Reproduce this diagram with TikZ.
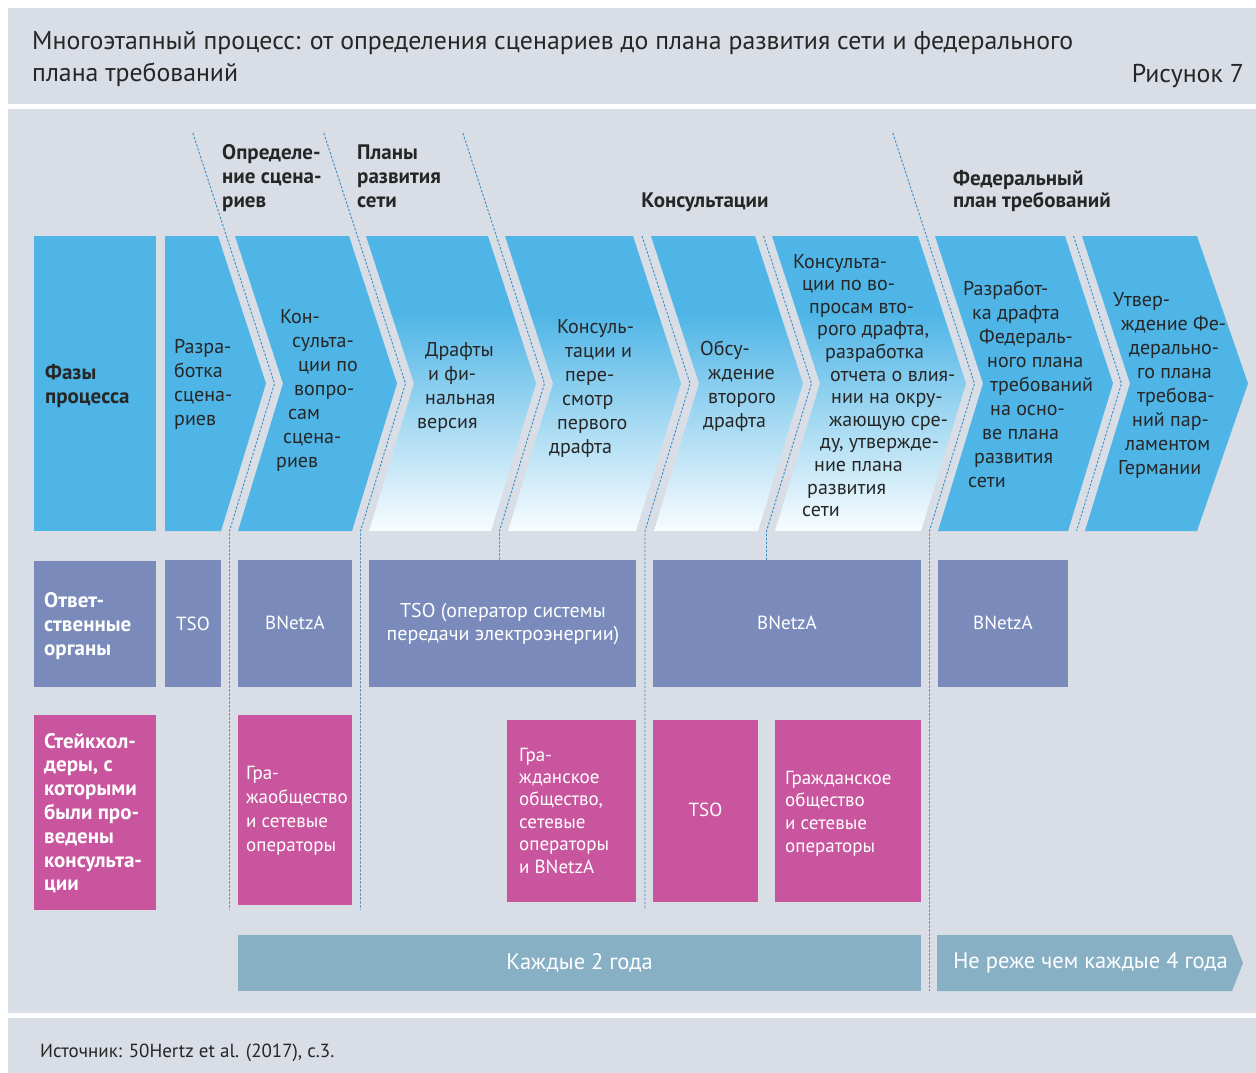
\documentclass[tikz,border=0pt]{standalone}
\usepackage{fontspec}
\setmainfont{PT Sans}

\definecolor{panel}{HTML}{D9DDE5}
\definecolor{cblue}{HTML}{4FB5E6}
\definecolor{slate}{HTML}{7A8BBB}
\definecolor{mag}{HTML}{C9559E}
\definecolor{band}{HTML}{88B0C5}
\definecolor{dashc}{HTML}{3A8EC4}
\definecolor{ink}{HTML}{262626}
\colorlet{fadebot}{cblue!4!white}
\colorlet{fademid}{cblue!55!white}

% blue at the top of a phase arrow, fading to white towards its foot
\pgfdeclareverticalshading{chevfade}{100bp}{color(0bp)=(fadebot); color(25bp)=(fadebot); color(45bp)=(fademid); color(62bp)=(cblue); color(100bp)=(cblue)}

% one line of a stacked label, shifted right by #1 pt
\newcommand\Ln[2]{\hbox{\kern#1pt #2}}

\tikzset{
  chev/.style={fill=cblue},
  chevf/.style={shading=chevfade},
  sep/.style={draw=dashc, line width=0.9pt, dash pattern=on 2.4pt off 1.6pt},
  txt/.style={inner sep=0pt, text=ink, font=\fontsize{20}{24}\selectfont},
  head/.style={inner sep=0pt, text=ink, font=\bfseries\fontsize{21}{24}\selectfont},
  wtxt/.style={inner sep=0pt, text=white, font=\fontsize{19}{24}\selectfont},
  wbold/.style={inner sep=0pt, text=white, font=\bfseries\fontsize{21}{24}\selectfont},
}

\begin{document}
\begin{tikzpicture}[x=1pt, y=-1pt]
\useasboundingbox (0,0) rectangle (1256,1073);
\fill[white] (0,0) rectangle (1256,1073);

% panels
\fill[panel] (8,8) rectangle (1256,103.5);
\fill[panel] (8,109) rectangle (1256,1012.5);
\fill[panel] (8,1018) rectangle (1256,1073);

% heading
\node[inner sep=0pt, anchor=base west, text=ink, font=\fontsize{25.8}{32}\selectfont] (title) at (32,50)
  {\vtop{\baselineskip=32pt\hbox{Многоэтапный процесс: от определения сценариев до плана развития сети и федерального}\hbox{плана требований}}};
\node[inner sep=0pt, anchor=base east, text=ink, font=\fontsize{25.8}{32}\selectfont] (fig) at (1244,82) {Рисунок 7};

% ---- phase arrows ----
\fill[cblue] (34,236) rectangle (156,531);
\fill[chev] (165,236) -- (218,236) -- (266,383.5) -- (221,531) -- (165,531) -- cycle;
\fill[chev] (235,236) -- (349,236) -- (397,383.5) -- (352,531) -- (238,531) -- (283,383.5) -- cycle;
\path[chevf] (366,236) -- (488,236) -- (536,383.5) -- (491,531) -- (369,531) -- (414,383.5) -- cycle;
\path[chevf] (505,236) -- (633,236) -- (681,383.5) -- (636,531) -- (508,531) -- (553,383.5) -- cycle;
\path[chevf] (651,236) -- (755,236) -- (803,383.5) -- (758,531) -- (654,531) -- (699,383.5) -- cycle;
\path[chevf] (772,236) -- (918,236) -- (966,383.5) -- (921,531) -- (775,531) -- (820,383.5) -- cycle;
\fill[chev] (935,236) -- (1065,236) -- (1113,383.5) -- (1068,531) -- (938,531) -- (983,383.5) -- cycle;
\fill[chev] (1082,236) -- (1197,236) -- (1248,383.5) -- (1197,531) -- (1085,531) -- (1130,383.5) -- cycle;

% ---- responsible bodies ----
\fill[slate] (34,561) rectangle (156,687);
\fill[slate] (165,560) rectangle (221,687);
\fill[slate] (238,560) rectangle (352,687);
\fill[slate] (369,560) rectangle (636,687);
\fill[slate] (653,560) rectangle (921,687);
\fill[slate] (938,560) rectangle (1068,687);

% ---- stakeholders ----
\fill[mag] (34,715) rectangle (156,910);
\fill[mag] (238,715) rectangle (352,905);
\fill[mag] (507,720) rectangle (636,902);
\fill[mag] (653,720) rectangle (758,902);
\fill[mag] (775,720) rectangle (921,902);

% ---- cycles ----
\fill[band] (238,935) rectangle (921,991);
\fill[band] (937,935) -- (1232,935) -- (1243,963) -- (1232,991) -- (937,991) -- cycle;

% ---- dashed phase separators ----
\draw[sep] (192.8,133) -- (274.5,383.5) -- (229.5,531) -- (229.5,910);
\draw[sep] (323.8,133) -- (405.5,383.5) -- (360.5,531) -- (360.5,910);
\draw[sep] (462.8,133) -- (544.5,383.5) -- (499.5,531) -- (499.5,560);
\draw[sep] (642,236) -- (690,383.5) -- (645,531) -- (645,910);
\draw[sep] (763.5,236) -- (811.5,383.5) -- (766.5,531) -- (766.5,560);
\draw[sep] (892.8,133) -- (974.5,383.5) -- (929.5,531) -- (929.5,991);
\draw[sep] (1073.5,236) -- (1121.5,383.5) -- (1076.5,531);

% ---- phase titles ----
\node[head, anchor=base west] (h1) at (222,159) {\vtop{\Ln{0}{Определе-}\Ln{0}{ние сцена-}\Ln{0}{риев}}};
\node[head, anchor=base west] (h2) at (357,159) {\vtop{\Ln{0}{Планы}\Ln{0}{развития}\Ln{0}{сети}}};
\node[head, anchor=base] (h3) at (705,207) {Консультации};
\node[head, anchor=base west] (h4) at (953,185) {\vtop{\baselineskip=22pt\Ln{0}{Федеральный}\Ln{0}{план требований}}};

% ---- phase arrow labels ----
\node[head, anchor=base west] (l0) at (45,379) {\vtop{\Ln{0}{Фазы}\Ln{0}{процесса}}};
\node[txt, anchor=base west] (p1) at (174,353) {\vtop{\Ln{0}{Разра-}\Ln{0}{ботка}\Ln{0}{сцена-}\Ln{0}{риев}}};
\node[txt, anchor=base west] (p2) at (276,323) {\vtop{\Ln{4}{Кон-}\Ln{16}{сульта-}\Ln{22}{ции по}\Ln{18}{вопро-}\Ln{12}{сам}\Ln{7}{сцена-}\Ln{0}{риев}}};
\node[txt, anchor=base west] (p3) at (417,356) {\vtop{\Ln{8}{Драфты}\Ln{11}{и фи-}\Ln{8}{нальная}\Ln{0}{версия}}};
\node[txt, anchor=base west] (p4) at (549,333) {\vtop{\Ln{8}{Консуль-}\Ln{16}{тации и}\Ln{16}{пере-}\Ln{13}{смотр}\Ln{8}{первого}\Ln{0}{драфта}}};
\node[txt, anchor=base west] (p5) at (700,355) {\vtop{\Ln{0}{Обсу-}\Ln{8}{ждение}\Ln{8}{второго}\Ln{3}{драфта}}};
\node[txt, anchor=base west] (p6) at (793,268) {\vtop{\baselineskip=22.6pt\Ln{0}{Консульта-}\Ln{9}{ции по во-}\Ln{16}{просам вто-}\Ln{24}{рого драфта,}\Ln{32}{разработка}\Ln{37}{отчета о влия-}\Ln{38}{нии на окру-}\Ln{36}{жающую сре-}\Ln{27}{ду, утвержде-}\Ln{21}{ние плана}\Ln{14}{развития}\Ln{9}{сети}}};
\node[txt, anchor=base west] (p7) at (963,295) {\vtop{\Ln{0}{Разработ-}\Ln{9}{ка драфта}\Ln{16}{Федераль-}\Ln{24}{ного плана}\Ln{27}{требований}\Ln{27}{на осно-}\Ln{19}{ве плана}\Ln{11}{развития}\Ln{5}{сети}}};
\node[txt, anchor=base west] (p8) at (1113,306) {\vtop{\Ln{0}{Утвер-}\Ln{8}{ждение Фе-}\Ln{16}{дерально-}\Ln{24}{го плана}\Ln{24}{требова-}\Ln{19}{ний пар-}\Ln{12}{ламентом}\Ln{5}{Германии}}};

% ---- responsible bodies labels ----
\node[wbold, anchor=base west] (l1) at (44,607) {\vtop{\Ln{0}{Ответ-}\Ln{0}{ственные}\Ln{0}{органы}}};
\node[wtxt] (r1) at (193,624) {TSO};
\node[wtxt] (r2) at (295,623) {BNetzA};
\node[wtxt, align=center, font=\fontsize{20}{23}\selectfont] (r3) at (503,624.5) {TSO (оператор системы\\передачи электроэнергии)};
\node[wtxt] (r4) at (787,623) {BNetzA};
\node[wtxt] (r5) at (1003,623) {BNetzA};

% ---- stakeholder labels ----
\node[wbold, anchor=base west] (l2) at (44,748) {\vtop{\baselineskip=23.8pt\Ln{0}{Стейкхол-}\Ln{0}{деры, с}\Ln{0}{которыми}\Ln{0}{были про-}\Ln{0}{ведены}\Ln{0}{консульта-}\Ln{0}{ции}}};
\node[wtxt, anchor=base west] (s1) at (246,779) {\vtop{\Ln{0}{Гра-}\Ln{0}{жаобщество}\Ln{0}{и сетевые}\Ln{0}{операторы}}};
\node[wtxt, anchor=base west] (s2) at (519,761) {\vtop{\baselineskip=22.4pt\Ln{0}{Гра-}\Ln{0}{жданское}\Ln{0}{общество,}\Ln{0}{сетевые}\Ln{0}{операторы}\Ln{0}{и BNetzA}}};
\node[wtxt] (s3) at (705.5,810) {TSO};
\node[wtxt, anchor=base west] (s4) at (785,784) {\vtop{\baselineskip=22.7pt\Ln{0}{Гражданское}\Ln{0}{общество}\Ln{0}{и сетевые}\Ln{0}{операторы}}};

% ---- cycle labels ----
\node[wtxt, font=\fontsize{22.5}{24}\selectfont] (c1) at (579.5,963) {Каждые 2 года};
\node[wtxt, font=\fontsize{22.5}{24}\selectfont] (c2) at (1090.5,963) {Не реже чем каждые 4 года};

% source line
\node[inner sep=0pt, anchor=base west, text=ink, font=\fontsize{19}{22}\selectfont] (src) at (40,1057) {Источник: 50Hertz et al. (2017), с.3.};
\end{tikzpicture}
\end{document}
